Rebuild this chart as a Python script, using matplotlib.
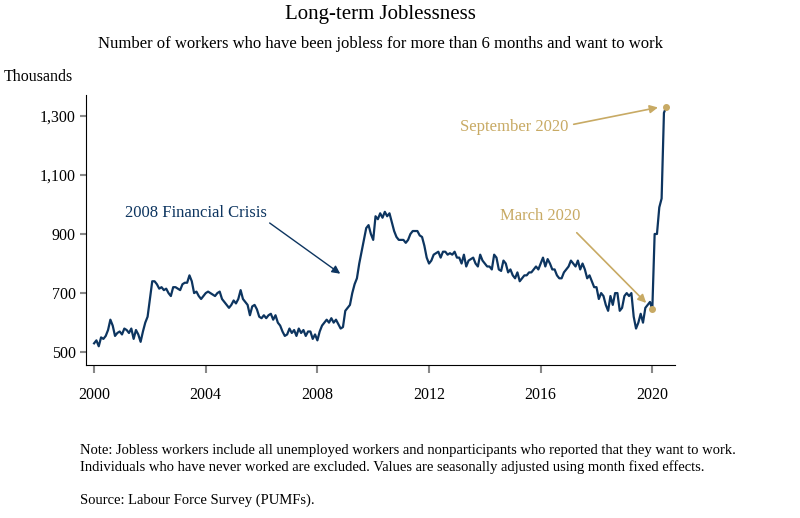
import matplotlib
matplotlib.use("Agg")
import matplotlib.pyplot as plt
import numpy as np

plt.rcParams['font.family'] = ['Liberation Serif', 'DejaVu Serif']

years = list(range(2000, 2021))
values_by_year = {
    2000: [530, 540, 520, 550, 545, 555, 575, 610, 590, 555],  # Mar-Dec
    2001: [565, 570, 560, 580, 575, 565, 580, 545, 575, 560, 535, 570],
    2002: [600, 620, 680, 740, 740, 730, 715, 720, 710, 715, 700, 690],
    2003: [720, 720, 715, 710, 730, 735, 735, 760, 740, 700, 705, 690],
    2004: [680, 690, 700, 705, 700, 695, 690, 700, 705, 680, 670, 660],
    2005: [650, 660, 675, 665, 680, 710, 680, 670, 660, 625, 655, 660],
    2006: [645, 620, 615, 625, 615, 625, 630, 610, 625, 600, 590, 570],
    2007: [555, 560, 580, 565, 575, 555, 580, 565, 575, 555, 570, 570],
    2008: [545, 560, 540, 570, 590, 600, 610, 600, 615, 600, 610, 595],
    2009: [580, 585, 640, 650, 660, 700, 730, 750, 800, 840, 880, 920],
    2010: [930, 900, 880, 960, 950, 970, 955, 975, 960, 970, 940, 910],
    2011: [890, 880, 880, 880, 870, 880, 900, 910, 910, 910, 895, 890],
    2012: [860, 820, 800, 810, 830, 835, 840, 820, 840, 840, 830, 835],
    2013: [830, 840, 820, 820, 800, 830, 790, 810, 815, 820, 800, 790],
    2014: [830, 810, 800, 790, 790, 780, 830, 820, 780, 775, 810, 800],
    2015: [770, 780, 760, 750, 770, 740, 750, 760, 760, 770, 770, 780],
    2016: [790, 780, 800, 820, 790, 815, 800, 780, 780, 760, 750, 750],
    2017: [770, 780, 790, 810, 800, 790, 810, 780, 800, 780, 750, 760],
    2018: [740, 720, 720, 680, 700, 690, 660, 640, 690, 660, 700, 700],
    2019: [640, 650, 690, 700, 690, 700, 620, 580, 600, 630, 600, 650],
    2020: [660, 670, 645, 900, 900, 990, 1020, 1310, 1330],
}

xs, ys = [], []
for y in years:
    vals = values_by_year[y]
    start = 3 if y == 2000 else 1
    for i, v in enumerate(vals):
        m = start + i
        xs.append(y + (m - 3) / 12)
        ys.append(v)
xs = np.array(xs); ys = np.array(ys)

navy = '#0d3560'
gold = '#c8aa64'

fig = plt.figure(figsize=(8, 5.18), dpi=100)
ax = fig.add_axes([0.1075, 0.295, 0.7365, 0.522])
ax.plot(xs, ys, color=navy, lw=1.6)
mar = xs[-7]; sep = xs[-1]
ax.plot([mar], [ys[-7]], 'o', color=gold, ms=4)
ax.plot([sep], [ys[-1]], 'o', color=gold, ms=4)

ax.set_xlim(1999.71, 2020.82)
ax.set_ylim(456, 1371)
ax.set_xticks([2000, 2004, 2008, 2012, 2016, 2020])
ax.set_yticks([500, 700, 900, 1100, 1300])
ax.set_yticklabels(['500', '700', '900', '1,100', '1,300'])
for s in ['top', 'right']:
    ax.spines[s].set_visible(False)
ax.tick_params(direction='out', color='#888888', length=6, width=1.5, labelsize=11.5)
ax.tick_params(axis='x', pad=10)
ax.tick_params(axis='y', length=4)

fig.text(0.475, 1 - 14 / 518, 'Long-term Joblessness', ha='center', va='center', fontsize=15)
fig.text(0.475, 1 - 44 / 518, 'Number of workers who have been jobless for more than 6 months and want to work',
         ha='center', va='center', fontsize=12)
fig.text(4 / 800, 1 - 77 / 518, 'Thousands', ha='left', va='center', fontsize=11.5)

ax.annotate('2008 Financial Crisis', xy=(2008.9, 760), xycoords='data',
            xytext=(125, 518 - 213), textcoords='figure pixels', ha='left', va='center',
            color=navy, fontsize=12,
            arrowprops=dict(arrowstyle='-|>', color=navy, lw=1, shrinkA=0, shrinkB=2,
                            relpos=(1.0, 0.0)))
ax.annotate('March 2020', xy=(mar - 0.15, 660), xycoords='data',
            xytext=(540, 518 - 216), textcoords='figure pixels', ha='center', va='center',
            color=gold, fontsize=12,
            arrowprops=dict(arrowstyle='-|>', color=gold, lw=1.2, shrinkA=6, shrinkB=2,
                            relpos=(0.85, 0.0)))
ax.annotate('September 2020', xy=(sep - 0.2, 1330), xycoords='data',
            xytext=(514, 518 - 127), textcoords='figure pixels', ha='center', va='center',
            color=gold, fontsize=12,
            arrowprops=dict(arrowstyle='-|>', color=gold, lw=1.2, shrinkA=2, shrinkB=2,
                            relpos=(1.0, 0.6)))

fig.text(80 / 800, 1 - 459 / 518,
         'Note: Jobless workers include all unemployed workers and nonparticipants who reported that they want to work.\n'
         'Individuals who have never worked are excluded. Values are seasonally adjusted using month fixed effects.',
         ha='left', va='center', fontsize=10.5, linespacing=1.3)
fig.text(80 / 800, 1 - 500 / 518, 'Source: Labour Force Survey (PUMFs).', ha='left', va='center', fontsize=10.5)

fig.savefig('out.png', dpi=100)
